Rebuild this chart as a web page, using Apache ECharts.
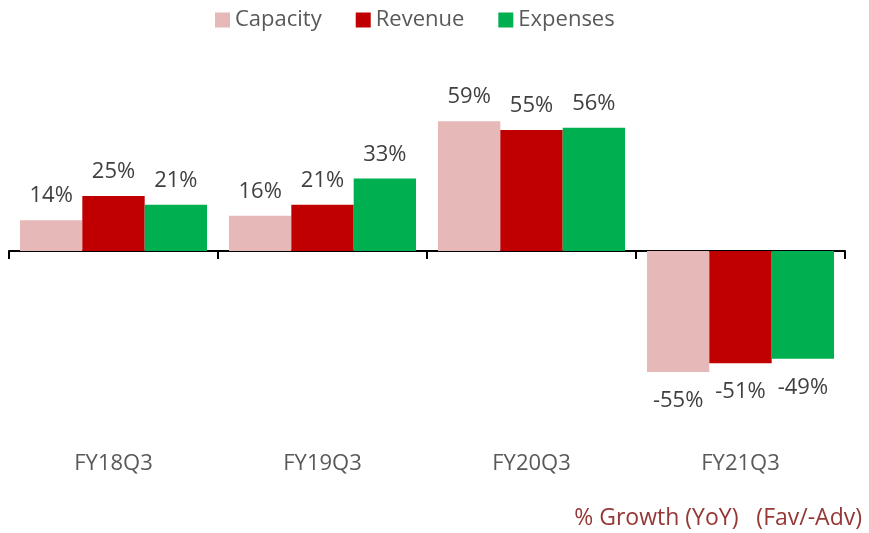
<!DOCTYPE html>
<html style="height: 100%">
   <head>
       <meta charset="utf-8">
   </head>
   <body style="height: 100%; margin: 0">
       <div id="container" style="width: 869px; height: 533px"></div>
       <script type="text/javascript" src="https://cdn.jsdelivr.net/npm/echarts@6/dist/echarts.min.js"></script>
       <script type="text/javascript">
var categories = ['FY18Q3', 'FY19Q3', 'FY20Q3', 'FY21Q3'];
var capacity = [14, 16, 59, -55];
var revenue = [25, 21, 55, -51];
var expenses = [21, 33, 56, -49];

var dom = document.getElementById("container");
var myChart = echarts.init(dom);
var font = '"Open Sans", sans-serif';

function barLabel(v) {
    return {
        show: true,
        position: v < 0 ? 'bottom' : 'top',
        distance: v < 0 ? 18 : 13,
        formatter: '{c}%',
        fontSize: 22,
        fontFamily: font,
        color: '#404040'
    };
}

function makeSeries(name, data, color) {
    return {
        name: name,
        type: 'bar',
        xAxisIndex: 0,
        data: data.map(function (v) {
            return { value: v, label: barLabel(v) };
        }),
        itemStyle: { color: color },
        barGap: '0%',
        barCategoryGap: '10.5%'
    };
}

var option = {
    animation: false,
    legend: {
        top: 4,
        left: 210,
        icon: 'rect',
        itemWidth: 15,
        itemHeight: 15,
        itemGap: 34,
        textStyle: { fontSize: 22, fontFamily: font, color: '#595959' },
        data: ['Capacity', 'Revenue', 'Expenses']
    },
    grid: { left: 9, right: 24, top: 97, bottom: 84 },
    xAxis: [{
        type: 'category',
        data: categories,
        axisLine: { onZero: true, lineStyle: { color: '#000', width: 2 } },
        axisTick: { show: true, length: 8, lineStyle: { color: '#000', width: 2 } },
        axisLabel: { show: false }
    }, {
        type: 'category',
        data: categories,
        position: 'bottom',
        axisLine: { show: false, onZero: false },
        axisTick: { show: false },
        axisLabel: { margin: 4, fontSize: 22, fontFamily: font, color: '#595959' }
    }],
    yAxis: [{
        type: 'value',
        min: -90,
        max: 70,
        show: false,
        splitLine: { show: false }
    }],
    graphic: [{
        type: 'text',
        right: 7,
        top: 507,
        style: {
            text: '% Growth (YoY)   (Fav/-Adv)',
            fontSize: 23,
            fontFamily: font,
            fill: '#953735'
        }
    }],
    series: [
        makeSeries('Capacity', capacity, '#E6B8B7'),
        makeSeries('Revenue', revenue, '#C00000'),
        makeSeries('Expenses', expenses, '#00B050')
    ]
};

if (option && typeof option === "object") {
    myChart.setOption(option, true);
}
       </script>
   </body>
</html>
